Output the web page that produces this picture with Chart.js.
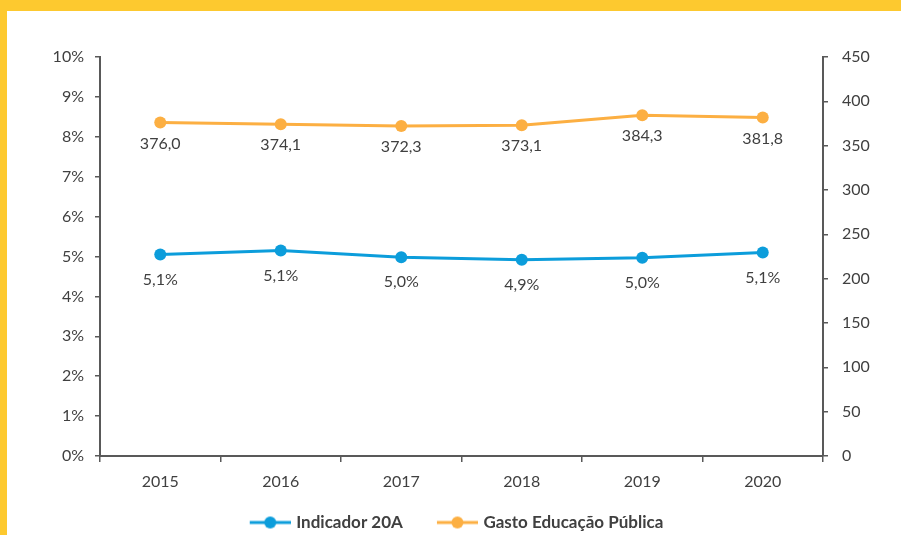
<!DOCTYPE html>
<html><head><meta charset="utf-8">
<script src="https://cdn.jsdelivr.net/npm/chart.js@4.4.1/dist/chart.umd.min.js"></script>
<style>
html,body{margin:0;padding:0;background:#fff;width:901px;height:535px;overflow:hidden;}
#topband{position:absolute;left:0;top:0;width:901px;height:11px;background:#FDC92F;}
#leftband{position:absolute;left:0;top:0;width:7px;height:535px;background:#FDC92F;}
#wrap{position:absolute;left:0;top:0;width:901px;height:535px;}
</style></head><body>
<div id="topband"></div><div id="leftband"></div>
<div id="wrap"><canvas id="c" width="901" height="535"></canvas></div>
<script>
// ---- data ----
const years = ['2015', '2016', '2017', '2018', '2019', '2020'];
const indicador20A = [5.05, 5.15, 4.98, 4.92, 4.97, 5.10];
const indicador20ALabels = ['5,1%', '5,1%', '5,0%', '4,9%', '5,0%', '5,1%'];
const gastoEducacao = [376.0, 374.1, 372.3, 373.1, 384.3, 381.8];
const gastoEducacaoLabels = ['376,0', '374,1', '372,3', '373,1', '384,3', '381,8'];
const leftTickMax = 10;   // %
const rightTickMax = 450;

// ---- styles ----
const BLUE = '#0C9DDB';
const ORANGE = '#FCAF42';
const AXIS = '#595959';
const TEXT = '#404040';
const FONT = 'Lato, "Open Sans", sans-serif';

function legendIcon(color) {
  const cv = document.createElement('canvas');
  cv.width = 56; cv.height = 14;
  const g = cv.getContext('2d');
  g.strokeStyle = color; g.lineWidth = 3;
  g.beginPath(); g.moveTo(15, 7); g.lineTo(56, 7); g.stroke();
  g.fillStyle = color;
  g.beginPath(); g.arc(35.5, 7, 6, 0, Math.PI * 2); g.fill();
  return cv;
}
const icons = [legendIcon(BLUE), legendIcon(ORANGE)];

const dataLabelPlugin = {
  id: 'dataLabels',
  afterDatasetsDraw(chart) {
    const ctx = chart.ctx;
    chart.data.datasets.forEach((ds, i) => {
      const meta = chart.getDatasetMeta(i);
      meta.data.forEach((pt, j) => {
        ctx.save();
        ctx.font = '16px ' + FONT;
        ctx.fillStyle = TEXT;
        ctx.textAlign = 'center';
        ctx.textBaseline = 'middle';
        ctx.fillText(ds.pointLabels[j], pt.x, pt.y + ds.labelOffset);
        ctx.restore();
      });
    });
  }
};

new Chart(document.getElementById('c'), {
  type: 'line',
  data: {
    labels: years,
    datasets: [
      {
        label: 'Indicador 20A',
        data: indicador20A,
        pointLabels: indicador20ALabels,
        labelOffset: 25,
        yAxisID: 'y',
        borderColor: BLUE,
        backgroundColor: BLUE,
        borderWidth: 3,
        pointRadius: 6,
        pointHoverRadius: 6,
        pointBorderWidth: 0,
        pointBackgroundColor: BLUE,
        tension: 0
      },
      {
        label: 'Gasto Educação Pública',
        data: gastoEducacao,
        pointLabels: gastoEducacaoLabels,
        labelOffset: 21,
        yAxisID: 'y1',
        borderColor: ORANGE,
        backgroundColor: ORANGE,
        borderWidth: 3,
        pointRadius: 6,
        pointHoverRadius: 6,
        pointBorderWidth: 0,
        pointBackgroundColor: ORANGE,
        tension: 0
      }
    ]
  },
  options: {
    responsive: false,
    animation: false,
    devicePixelRatio: 1,
    layout: { padding: { top: 57, bottom: -6, left: 0, right: 0 } },
    plugins: {
      tooltip: { enabled: false },
      legend: {
        position: 'bottom',
        labels: {
          usePointStyle: true,
          pointStyleWidth: 50,
          boxHeight: 14,
          padding: 22,
          color: TEXT,
          font: { family: FONT, size: 17, weight: 'bold' },
          generateLabels(chart) {
            const items = Chart.defaults.plugins.legend.labels.generateLabels(chart);
            items.forEach((it, i) => { it.pointStyle = icons[i]; });
            return items;
          }
        }
      }
    },
    scales: {
      x: {
        type: 'category',
        offset: true,
        afterFit(s) { s.height = 36; },
        grid: { display: true, drawOnChartArea: false, drawTicks: true, tickLength: 6, offset: true, color: AXIS, lineWidth: 1.5 },
        border: { display: true, color: AXIS, width: 2 },
        ticks: { color: TEXT, font: { family: FONT, size: 16 }, padding: 10 }
      },
      y: {
        position: 'left',
        min: 0, max: leftTickMax,
        afterFit(s) { s.width = 100; },
        grid: { display: true, drawOnChartArea: false, drawTicks: true, tickLength: 5, color: AXIS, lineWidth: 1.5 },
        border: { display: true, color: AXIS, width: 2 },
        ticks: { stepSize: 1, color: TEXT, font: { family: FONT, size: 16 }, padding: 11, callback: v => v + '%' }
      },
      y1: {
        position: 'right',
        min: 0, max: rightTickMax,
        afterFit(s) { s.width = 78; },
        grid: { display: true, drawOnChartArea: false, drawTicks: true, tickLength: 5, color: AXIS, lineWidth: 1.5 },
        border: { display: true, color: AXIS, width: 2 },
        ticks: { stepSize: 50, color: TEXT, font: { family: FONT, size: 16 }, padding: 14 }
      }
    }
  },
  plugins: [dataLabelPlugin]
});
</script>
</body></html>
